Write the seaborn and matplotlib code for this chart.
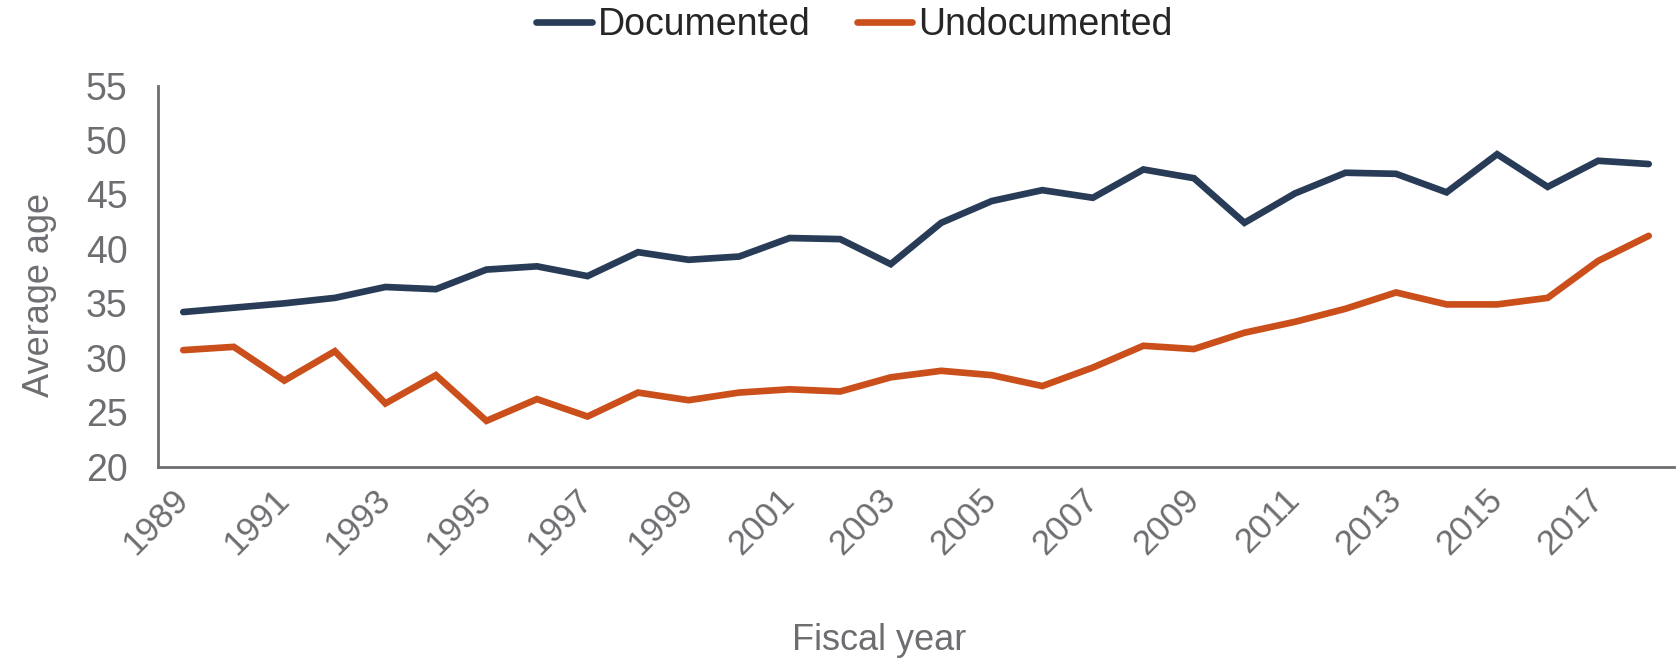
import numpy as np
import pandas as pd
import matplotlib
matplotlib.use("Agg")
import matplotlib.pyplot as plt
import seaborn as sns

years = list(range(1989, 2019))
documented = [34.2, 34.6, 35.0, 35.5, 36.5, 36.3, 38.1, 38.4, 37.5, 39.7,
              39.0, 39.3, 41.0, 40.9, 38.6, 42.4, 44.4, 45.4, 44.7, 47.3,
              46.5, 42.4, 45.1, 47.0, 46.9, 45.2, 48.7, 45.7, 48.1, 47.8]
undocumented = [30.7, 31.0, 27.9, 30.6, 25.8, 28.4, 24.2, 26.2, 24.6, 26.8,
                26.1, 26.8, 27.1, 26.9, 28.2, 28.8, 28.4, 27.4, 29.1, 31.1,
                30.8, 32.3, 33.3, 34.5, 36.0, 34.9, 34.9, 35.5, 38.9, 41.2]
series_names = ["Documented", "Undocumented"]
series_colors = ["#283c58", "#cb4f1b"]
y_ticks = [20, 25, 30, 35, 40, 45, 50, 55]
x_tick_years = list(range(1989, 2018, 2))

df = pd.DataFrame({
    "year": years * 2,
    "age": documented + undocumented,
    "status": [series_names[0]] * len(years) + [series_names[1]] * len(years),
})

sns.set_theme(style="white")
plt.rcParams["font.family"] = ["Liberation Sans", "DejaVu Sans"]

gray = "#6d6e71"
fig = plt.figure(figsize=(16.79, 6.59), dpi=100)
ax = fig.add_axes([0.0941, 0.292, 0.9029, 0.578])

sns.lineplot(data=df, x="year", y="age", hue="status",
             palette=dict(zip(series_names, series_colors)),
             linewidth=4.8, ax=ax, legend=False,
             solid_capstyle="round", solid_joinstyle="miter")

ax.set_xlim(1988.5, 2018.5)
ax.set_ylim(20, 55)
ax.set_yticks(y_ticks)
ax.set_xticks(x_tick_years)
ax.set_xticklabels([str(y) for y in x_tick_years], rotation=45, ha="right",
                   va="center", rotation_mode="anchor")

ax.tick_params(axis="both", length=0, labelcolor=gray)
ax.tick_params(axis="y", pad=22, labelsize=27)
ax.tick_params(axis="x", pad=20, labelsize=25)

for side in ["top", "right"]:
    ax.spines[side].set_visible(False)
for side in ["left", "bottom"]:
    ax.spines[side].set_color(gray)
    ax.spines[side].set_linewidth(2)

ax.set_xlabel("Fiscal year", fontsize=26, color=gray)
ax.set_ylabel("Average age", fontsize=26, color=gray)
ax.yaxis.set_label_coords(-0.0668, 0.45)
ax.xaxis.set_label_coords(0.476, -0.41)

handles = [plt.Line2D([], [], color=c, linewidth=4.8, solid_capstyle="round")
           for c in series_colors]
fig.legend(handles, series_names, loc="center", bbox_to_anchor=(0.509, 0.962),
           ncol=2, frameon=False, fontsize=27, handlelength=1.47,
           handletextpad=0.17, columnspacing=1.23)

fig.savefig("out.png", dpi=100)
